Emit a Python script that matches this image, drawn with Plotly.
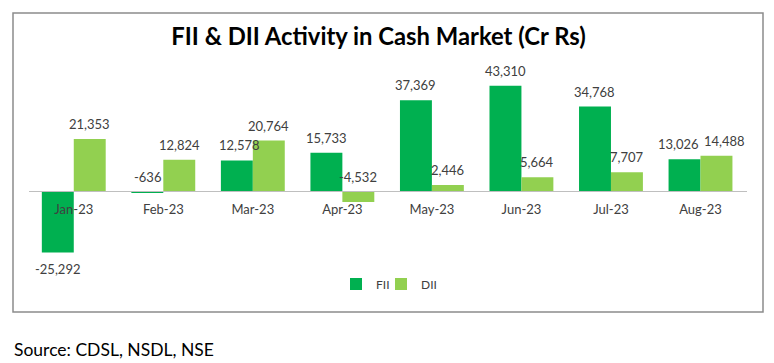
import plotly.graph_objects as go

months = ["Jan-23", "Feb-23", "Mar-23", "Apr-23", "May-23", "Jun-23", "Jul-23", "Aug-23"]
fii = [-25292, -636, 12578, 15733, 37369, 43310, 34768, 13026]
dii = [21353, 12824, 20764, -4532, 2446, 5664, 7707, 14488]

FONT = "Lato, 'Open Sans', sans-serif"
TXT = "#404040"

W, H = 774, 363
ML, MR, MT, MB = 29, 27, 50, 73
PW = W - ML - MR
PH = H - MT - MB

fig = go.Figure()
fig.add_trace(go.Bar(name="FII", x=months, y=fii, legend="legend", showlegend=True,
                     marker=dict(color="#00B050", line=dict(width=0))))
fig.add_trace(go.Bar(name="DII", x=months, y=dii, legend="legend2", showlegend=True,
                     marker=dict(color="#92D050", line=dict(width=0))))

# small label nudges (pixels) where labels of neighbouring bars would collide
nudge = {("FII", "Aug-23"): -6, ("DII", "Aug-23"): 8, ("FII", "Mar-23"): 3}

annotations = []
for name, vals, shift in (("FII", fii, -16), ("DII", dii, 16)):
    for m, v in zip(months, vals):
        txt = f"{v:,}"
        xs = shift + nudge.get((name, m), 0)
        if v >= 0:
            annotations.append(dict(x=m, y=v, text=txt, xshift=xs, yshift=5, yanchor="bottom"))
        elif v > -10000:
            annotations.append(dict(x=m, y=0, text=txt, xshift=xs, yshift=4, yanchor="bottom"))
        else:
            annotations.append(dict(x=m, y=v, text=txt, xshift=xs, yshift=-7, yanchor="top"))
for a in annotations:
    a.update(showarrow=False, xanchor="center", font=dict(family=FONT, size=13, color=TXT))

annotations.append(dict(
    xref="paper", yref="paper", x=(12 - ML) / PW, y=(PH + MT - 349) / PH,
    xanchor="left", yanchor="middle", showarrow=False,
    text="Source: CDSL, NSDL, NSE", font=dict(family=FONT, size=17.5, color="#000000")))

zero_px = 191
ymax = (zero_px - MT) / 0.00243
ymin = -((MT + PH) - zero_px) / 0.00243

legend_style = dict(orientation="h", xanchor="left", y=(MT + PH - 284) / PH, yanchor="middle",
                    font=dict(family=FONT, size=12, color=TXT), itemwidth=30,
                    bgcolor="rgba(0,0,0,0)")

fig.update_layout(
    width=W, height=H, autosize=False, showlegend=True,
    margin=dict(l=ML, r=MR, t=MT, b=MB),
    paper_bgcolor="white", plot_bgcolor="white",
    barmode="group", bargap=0.2865, bargroupgap=0,
    title=dict(text="<b>FII & DII Activity in Cash Market (Cr Rs)</b>",
               xref="paper", x=(378.5 - ML) / PW, xanchor="center",
               yref="container", y=1 - 37 / H, yanchor="middle",
               font=dict(family=FONT, size=23.8, color="#000000")),
    xaxis=dict(type="category", anchor="free", position=(MT + PH - zero_px) / PH,
               showline=True, linecolor="#bfbfbf", linewidth=1.3,
               ticks="", showgrid=False, ticklabelstandoff=6,
               tickfont=dict(family=FONT, size=13, color=TXT)),
    yaxis=dict(range=[ymin, ymax], visible=False, showgrid=False, zeroline=False),
    legend=dict(x=(336 - ML) / PW, **legend_style),
    legend2=dict(x=(381 - ML) / PW, **legend_style),
    annotations=annotations,
    shapes=[dict(type="rect", xref="paper", yref="paper",
                 x0=(13 - ML) / PW, x1=(763 - ML) / PW,
                 y0=(MT + PH - 312) / PH, y1=(MT + PH - 13) / PH,
                 line=dict(color="#8c8c8c", width=1.5))],
)

fig.write_html("out.html", config={"displayModeBar": False},
               post_script="document.body.style.margin='0';document.body.style.overflow='hidden';")
